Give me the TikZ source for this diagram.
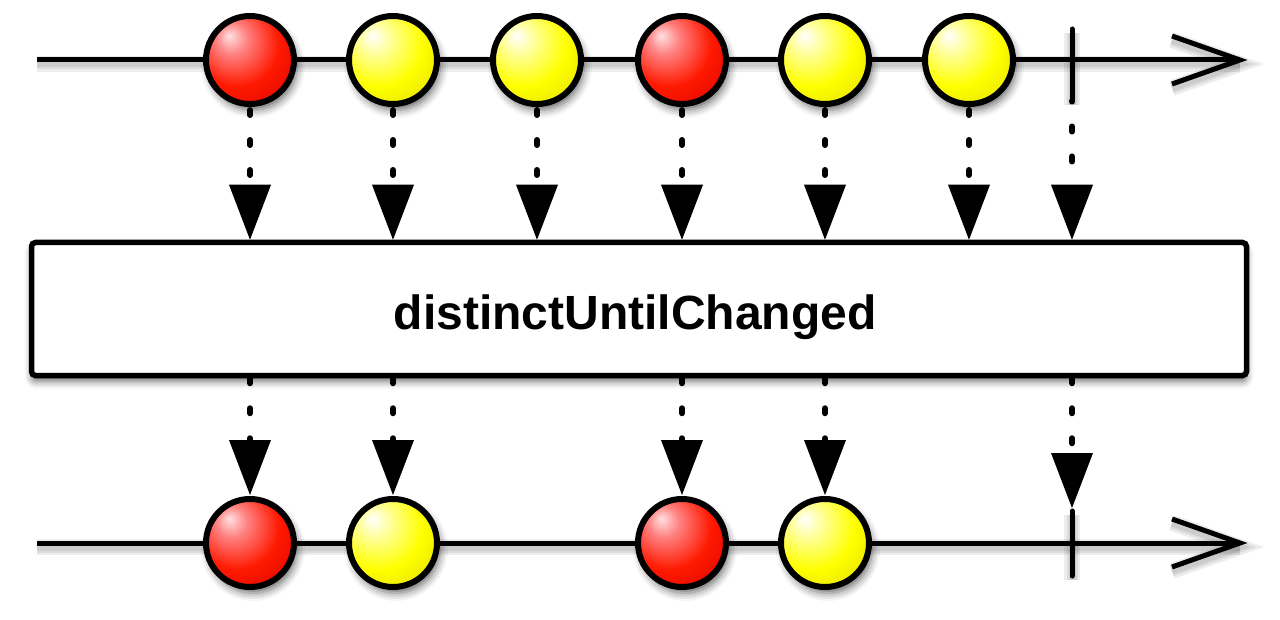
\documentclass[tikz,border=0pt]{standalone}
\usepackage{fontspec}
\setmainfont{Liberation Sans}
\usetikzlibrary{arrows.meta,shadows.blur,backgrounds}

\pgfdeclareradialshading{redball}{\pgfpoint{-12bp}{14bp}}{color(0bp)=(red!12!white); color(9bp)=(red!50!white); color(24bp)=(red!90!yellow); color(44bp)=(red!85!black); color(66bp)=(red!50!black)}
\pgfdeclareradialshading{yellowball}{\pgfpoint{-12bp}{14bp}}{color(0bp)=(white); color(9bp)=(yellow!40!white); color(24bp)=(yellow); color(44bp)=(yellow!85!black); color(66bp)=(yellow!50!black)}

\tikzset{
  ball/.style={circle, draw=black, line width=6pt, minimum size=88pt, inner sep=0pt,
    blur shadow={shadow xshift=3pt, shadow yshift=-6pt, shadow blur radius=8pt, shadow opacity=60}},
  redb/.style={ball, shade, shading=redball},
  yelb/.style={ball, shade, shading=yellowball},
  opbox/.style={draw=black, line width=5.5pt, fill=white, rounded corners=4pt,
    minimum width=1215pt, minimum height=133pt, inner sep=0pt,
    blur shadow={shadow xshift=0pt, shadow yshift=-6pt, shadow blur radius=7pt, shadow opacity=55}},
  tl/.style={draw=black, line width=5pt},
  tickmark/.style={draw=black, line width=5pt, line cap=round},
  lshad/.style={draw=black, opacity=0.07, line width=#1, transform canvas={yshift=-4pt}},
  conn/.style={draw=black, line width=6pt, line cap=round, dash pattern=on 5pt off 25pt,
    -{Triangle[length=55pt,width=42pt,line width=0pt]}},
}

\begin{document}
\begin{tikzpicture}[x=1pt,y=-1pt]
\useasboundingbox (0,0) rectangle (1280,620);

% operator box and label
\node[opbox] (box) at (639,309) {};
\node[font=\bfseries\fontsize{48}{48}\selectfont, anchor=base] (lbl) at (635,330) {distinctUntilChanged};

% source balls
\node[redb] (a1) at (250,60) {};
\node[yelb] (a2) at (393,60) {};
\node[yelb] (a3) at (537,60) {};
\node[redb] (a4) at (682,60) {};
\node[yelb] (a5) at (825,60) {};
\node[yelb] (a6) at (969,60) {};

% result balls
\node[redb] (c1) at (250,543) {};
\node[yelb] (c2) at (393,543) {};
\node[redb] (c3) at (682,543) {};
\node[yelb] (c4) at (825,543) {};

% completion ticks
\coordinate (t1a) at (1072,29);
\coordinate (t1b) at (1072,101);
\coordinate (t2a) at (1072,511);
\coordinate (t2b) at (1072,576);

\begin{pgfonlayer}{background}
  \foreach \w in {16,11,7} {
    \draw[lshad=\w pt] (37,60) -- (1240,60);
    \draw[lshad=\w pt] (37,543) -- (1240,543);
    \draw[lshad=\w pt, line join=miter] (1172,36) -- (1240,60) -- (1172,84);
    \draw[lshad=\w pt, line join=miter] (1172,519) -- (1240,543) -- (1172,567);
    \draw[lshad=\w pt] (t1a) -- (t1b);
    \draw[lshad=\w pt] (t2a) -- (t2b);
  }
  \draw[tl] (37,60) -- (1240,60);
  \draw[tl, line join=miter] (1172,36) -- (1240,60) -- (1172,84);
  \draw[tl] (37,543) -- (1240,543);
  \draw[tl, line join=miter] (1172,519) -- (1240,543) -- (1172,567);
  \draw[tickmark] (t1a) -- (t1b);
  \draw[tickmark] (t2a) -- (t2b);
\end{pgfonlayer}

% connectors into the operator
\foreach \n in {a1,a2,a3,a4,a5,a6}
  \draw[conn, dash phase=27pt] (\n.south) -- (\n.south |- box.north);
\draw[conn, dash phase=4.5pt] (t1b) -- (t1b |- box.north);

% connectors out of the operator
\foreach \n in {c1,c2,c3,c4}
  \draw[conn, shorten >=1pt] (box.south -| \n) -- (\n.north);
\draw[conn, shorten >=3pt] (box.south -| t2a) -- (t2a);
\end{tikzpicture}
\end{document}
